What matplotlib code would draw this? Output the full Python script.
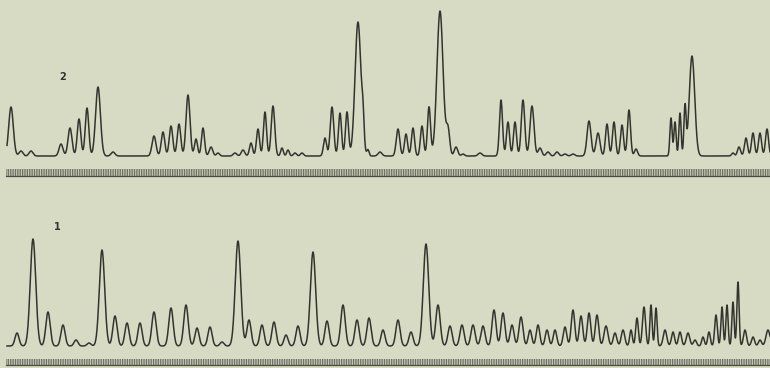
import numpy as np
import matplotlib
matplotlib.use("Agg")
import matplotlib.pyplot as plt

# ---- data (time position, amplitude above baseline) ----
trace2_times = [11, 21, 31, 61, 70, 79, 87, 98, 113, 154, 163, 171, 179, 188, 196, 203,
                211, 218, 235, 243, 251, 258, 265, 273, 282, 288, 295, 302, 325, 332,
                340, 347, 358, 363, 368, 380, 398, 406, 413, 422, 429, 440, 448, 456,
                463, 480, 501, 508, 515, 523, 532, 540, 548, 557, 565, 573, 589, 598,
                607, 614, 622, 629, 636, 671, 675, 680, 685, 692, 733, 739, 746, 753,
                760, 767]
trace2_amps = [49, 5, 5, 12, 28, 37, 48, 69, 4, 20, 24, 30, 32, 61, 17, 28,
               9, 3, 3, 6, 13, 27, 44, 50, 8, 6, 3, 3, 18, 49,
               43, 44, 134, 24, 6, 4, 27, 22, 28, 30, 49, 145, 26, 9,
               2, 3, 56, 34, 34, 56, 50, 8, 4, 4, 2, 2, 35, 23,
               32, 34, 31, 46, 7, 38, 34, 43, 49, 100, 3, 9, 18, 23,
               23, 27]

trace1_times = [17, 33, 48, 63, 76, 89, 102, 115, 127, 140, 154, 171, 186, 197, 210,
                222, 238, 249, 262, 274, 286, 298, 313, 327, 343, 357, 369, 383, 398,
                411, 426, 438, 450, 462, 473, 483, 494, 503, 512, 521, 530, 538, 547,
                555, 565, 573, 581, 589, 597, 606, 615, 623, 631, 637, 644, 651, 656,
                665, 673, 680, 688, 695, 703, 709, 716, 722, 727, 733, 738, 745, 753,
                760, 768]
trace1_amps = [13, 107, 34, 21, 6, 3, 96, 30, 23, 23, 34, 38, 41, 18, 19,
               4, 105, 26, 21, 24, 11, 20, 94, 25, 41, 26, 28, 16, 26,
               14, 102, 41, 20, 21, 21, 20, 36, 33, 21, 29, 16, 21, 16,
               16, 19, 36, 30, 33, 31, 20, 13, 16, 16, 28, 39, 41, 38,
               16, 14, 14, 13, 6, 9, 14, 31, 39, 41, 44, 64, 16, 9,
               6, 16]

trace_labels = ["2", "1"]

BG = "#d8dbc4"
INK = "#34342f"

plt.rcParams["hatch.linewidth"] = 0.9
plt.rcParams["hatch.color"] = "#55554e"


def build_trace(times, amps, t):
    times = np.asarray(times, float)
    amps = np.asarray(amps, float)
    n = len(times)
    y = np.zeros_like(t)
    for i in range(n):
        c, a = times[i], amps[i]
        s = 1.9 + 0.008 * a
        # narrow the pulse only where a comparable neighbour sits close by
        for j in (i - 1, i + 1):
            if 0 <= j < n and amps[j] >= 0.5 * a:
                s = min(s, 0.22 * abs(times[j] - c))
        s = max(s, 1.1)
        y += a * np.exp(-0.5 * ((t - c) / s) ** 2)
    return y


fig = plt.figure(figsize=(7.7, 3.68), dpi=100, facecolor=BG)

t = np.arange(7, 770.01, 0.2)

H = 368.0
panels = [
    dict(times=trace2_times, amps=trace2_amps, top=0, bot=184, base=156,
         lab=(63, 77), strip=(169, 176.5)),
    dict(times=trace1_times, amps=trace1_amps, top=184, bot=368, base=346,
         lab=(57, 227), strip=(358.5, 365.5)),
]

for p, label in zip(panels, trace_labels):
    ax = fig.add_axes([0, 1 - p["bot"] / H, 1, (p["bot"] - p["top"]) / H])
    ax.set_facecolor(BG)
    ax.set_xlim(0, 770)
    ax.set_ylim(p["base"] - p["bot"], p["base"] - p["top"])
    ax.axis("off")
    y = build_trace(p["times"], p["amps"], t)
    ax.plot(t, y, color=INK, lw=1.1, solid_joinstyle="round")
    # time-marker strip
    s0 = p["base"] - p["strip"][0]
    s1 = p["base"] - p["strip"][1]
    ax.fill_between([6, 770], s0, s1, facecolor="#bfc2ad", edgecolor="#55554e",
                    hatch="|||||||", lw=0, alpha=0.75)
    ax.plot([6, 770], [s1 + 0.8, s1 + 0.8], color="#4a4a44", lw=0.9)
    # label
    ax.text(p["lab"][0], p["base"] - p["lab"][1], label, fontsize=7,
            fontweight="bold", color=INK, ha="center", va="center")

fig.savefig("out.png", dpi=100, facecolor=BG)
